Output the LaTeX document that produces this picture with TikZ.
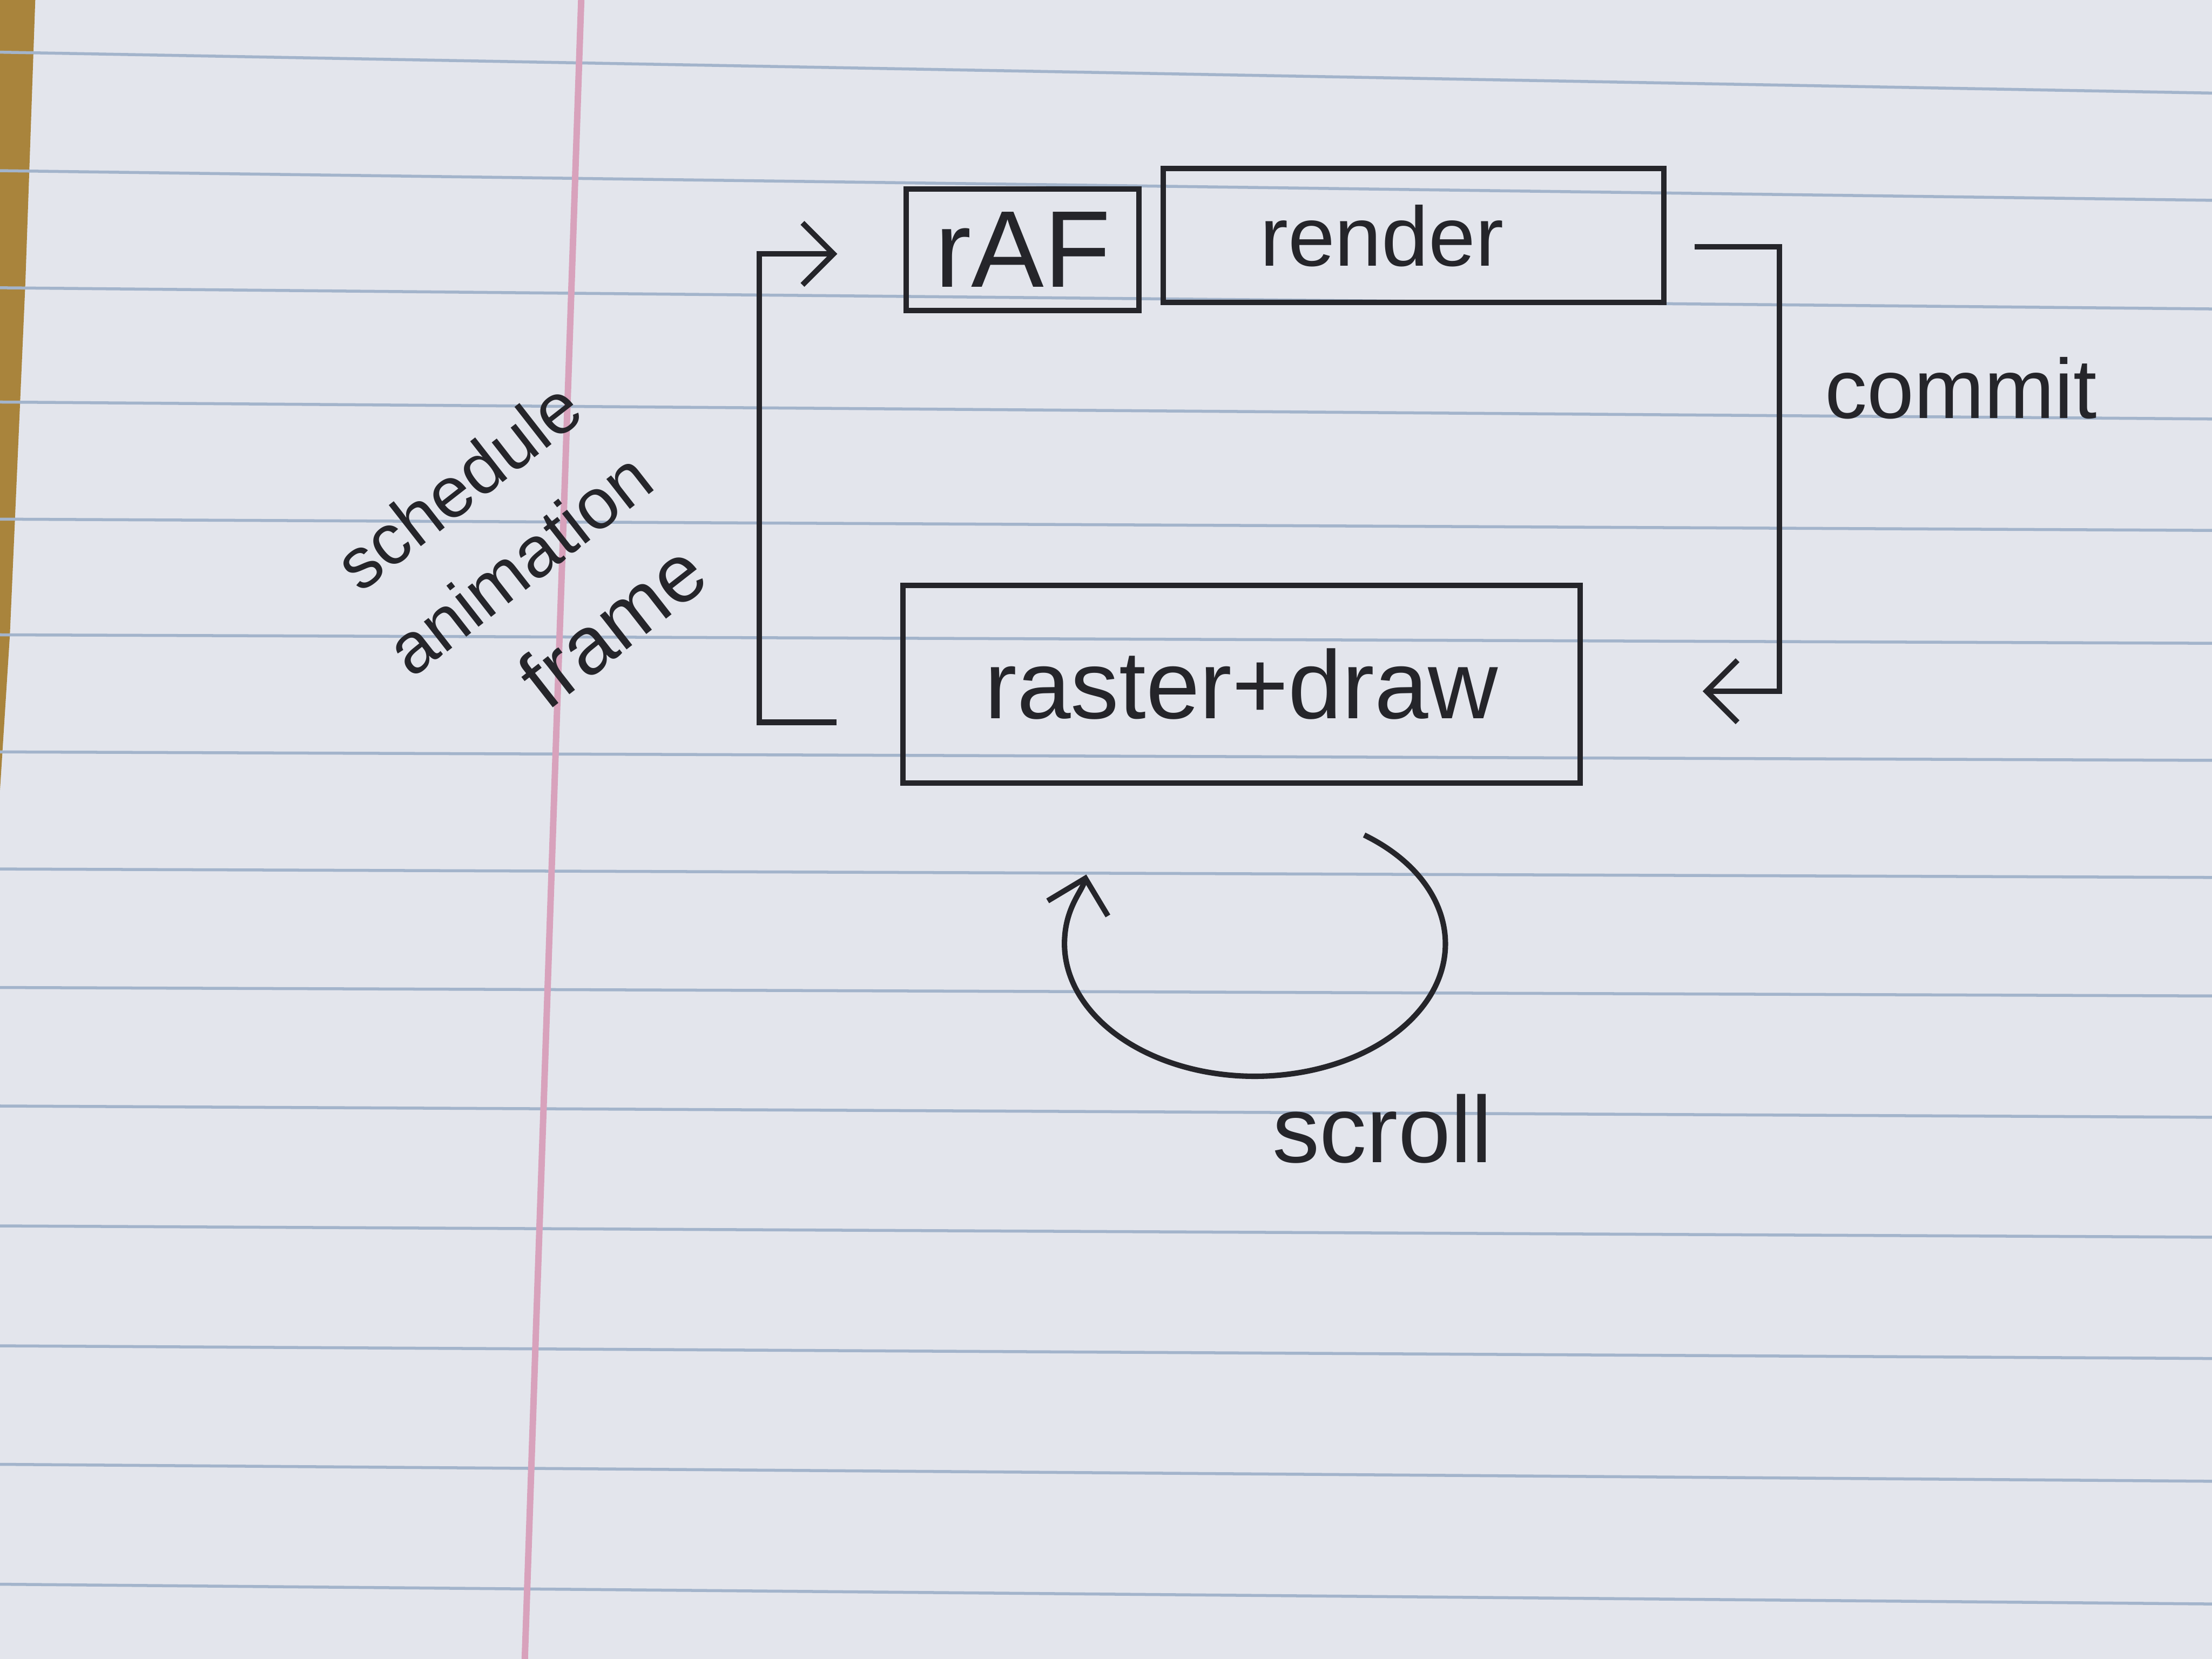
\documentclass[tikz,border=0pt]{standalone}
\usepackage{fontspec}
\setmainfont{Liberation Sans}
\usetikzlibrary{arrows.meta,calc}
\definecolor{paper}{HTML}{E3E5EC}
\definecolor{rulecol}{HTML}{A3B4CB}
\definecolor{margincol}{HTML}{D8A2BC}
\definecolor{ink}{HTML}{25252A}
\definecolor{wood}{HTML}{A9843C}
\begin{document}
\begin{tikzpicture}[x=1cm,y=1cm,
  box/.style={draw=ink, line width=1.1pt, rectangle, inner sep=0pt, text=ink},
  lbl/.style={text=ink, inner sep=0pt},
  conn/.style={draw=ink, line width=1.1pt, -{Straight Barb[length=2.2mm,width=4.4mm,line width=1.1pt]}},
  ]
\useasboundingbox (0,0) rectangle (15.68,-11.76);
% paper
\fill[paper] (0,0) rectangle (15.68,-11.76);
\fill[wood] (0,0) -- (0.25,0) -- (0.18,-2) -- (0.07,-4.5) -- (0,-5.6) -- cycle;
\foreach \l/\r in {0.37/0.66, 1.21/1.42, 2.04/2.19, 2.85/2.97, 3.68/3.76, 4.50/4.56, 5.33/5.39, 6.16/6.22, 7.00/7.06, 7.84/7.92, 8.69/8.77, 9.54/9.63, 10.38/10.50, 11.23/11.37}
  \draw[rulecol, line width=0.6pt] (0,-\l) -- (15.68,-\r);
\draw[margincol, line width=1.3pt] (4.12,0) -- (3.72,-11.76);
% boxes
\node[box, minimum width=1.65cm, minimum height=0.86cm, font=\fontsize{22}{26}\selectfont] (raf) at (7.25,-1.77) {rAF};
\node[box, minimum width=3.55cm, minimum height=0.95cm, font=\fontsize{17}{20}\selectfont] (render) at (10.02,-1.67) {render\hspace*{0.45cm}};
\node[box, minimum width=4.8cm, minimum height=1.4cm, font=\fontsize{19.5}{23}\selectfont] (raster) at (8.80,-4.85) {\raisebox{-0.12cm}{raster+draw}};
% labels
\node[lbl, font=\fontsize{17}{20}\selectfont] (commit) at (13.9,-2.75) {commit};
\node[lbl, font=\fontsize{19}{22}\selectfont] (scroll) at (9.8,-8.0) {scroll};
\node[lbl, rotate=38, align=center, font=\fontsize{14.5}{20}\selectfont] (sched) at (3.70,-4.02) {schedule\\animation\\[2pt]\hspace*{0.5cm}{\fontsize{16.5}{20}\selectfont frame}};
% connectors
\draw[conn] ([shift={(-0.45,-0.27)}]raster.west) -- ++(-0.55,0) |- ([shift={(-0.47,-0.03)}]raf.west);
\draw[conn] ([shift={(0.2,-0.08)}]render.east) -- ++(0.6,0) |- ([shift={(0.85,-0.05)}]raster.east);
\coordinate (loopstart) at ([shift={(0.87,-0.35)}]raster.south);
\begin{scope}[shift={(loopstart)}]
\draw[conn] (0,0) arc[start angle=55, end angle=-180, x radius=1.35, y radius=0.94]
  .. controls (-2.124,-0.52) and (-2.0,-0.40) .. (-1.97,-0.28);
\end{scope}
\end{tikzpicture}
\end{document}
